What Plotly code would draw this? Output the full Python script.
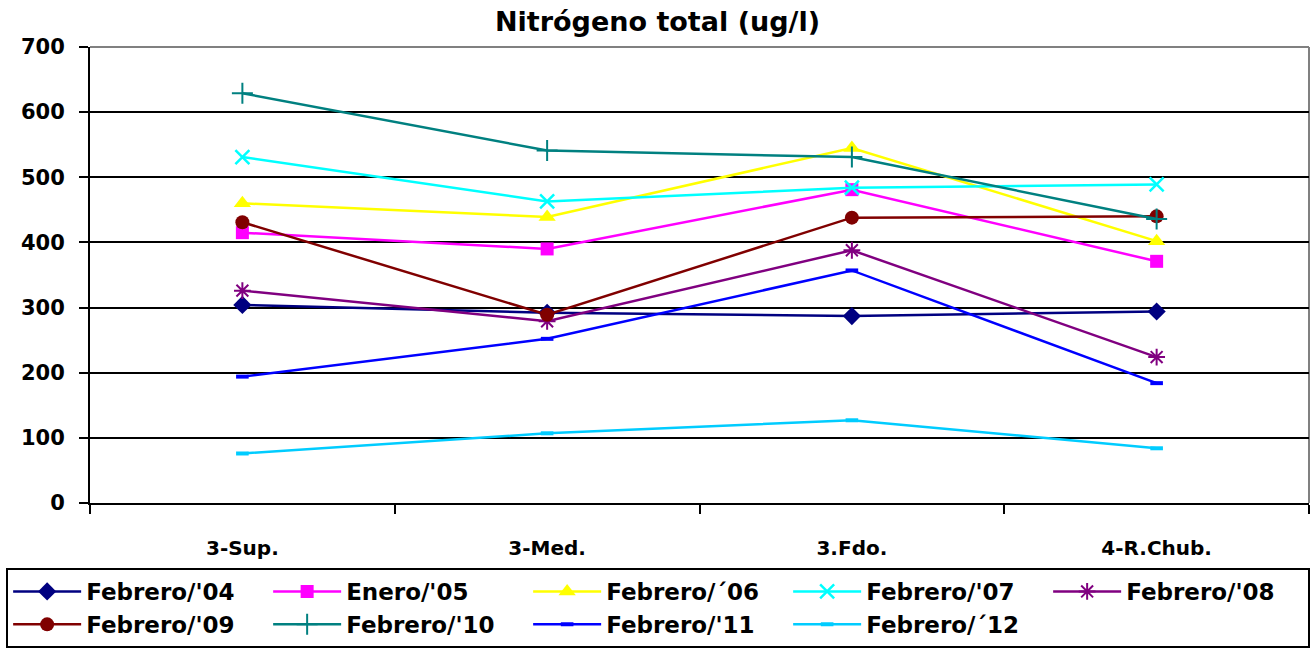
import plotly.graph_objects as go

categories = ["3-Sup.", "3-Med.", "3.Fdo.", "4-R.Chub."]

feb04 = [304, 292, 287, 294]
ene05 = [415, 390, 481, 371]
feb06 = [460, 439, 545, 402]
feb07 = [531, 463, 484, 489]
feb08 = [326, 279, 388, 224]
feb09 = [431, 289, 438, 440]
feb10 = [629, 541, 531, 436]
feb11 = [194, 252, 357, 184]
feb12 = [76, 107, 127, 84]

series = [
    ("Febrero/'04", feb04, "#000080", "diamond", 14, 0),
    ("Enero/'05", ene05, "#FF00FF", "square", 13, 0),
    ("Febrero/´06", feb06, "#FFFF00", "triangle-up", 15, 0),
    ("Febrero/'07", feb07, "#00FFFF", "x-thin", 14, 2.5),
    ("Febrero/'08", feb08, "#800080", "asterisk", 14, 2),
    ("Febrero/'09", feb09, "#800000", "circle", 14, 0),
    ("Febrero/'10", feb10, "#008080", "cross-thin", 15, 2),
    ("Febrero/'11", feb11, "#0000FF", "line-ew", 9, 4),
    ("Febrero/´12", feb12, "#00CCFF", "line-ew", 9, 4),
]

FONT = "DejaVu Sans"

fig = go.Figure()
for name, vals, color, sym, size, lw in series:
    fig.add_trace(go.Scatter(
        x=categories, y=vals, name=name, mode="lines+markers",
        line=dict(color=color, width=2.5),
        marker=dict(symbol=sym, size=size, color=color,
                    line=dict(color=color, width=lw)),
    ))

fig.update_layout(
    width=1315, height=654,
    margin=dict(l=88, r=6, t=47, b=151),
    paper_bgcolor="white", plot_bgcolor="white",
    font=dict(family=FONT, color="black"),
    title=dict(text="<b>Nitrógeno total (ug/l)</b>", x=0.5, xanchor="center",
               y=1 - 22 / 654, yanchor="middle", yref="container",
               font=dict(family=FONT, size=27, color="black")),
    showlegend=True,
    legend=dict(orientation="h", x=(4 - 88) / 1221, xanchor="left",
                y=-(568 - 503) / 456, yanchor="top",
                bordercolor="black", borderwidth=2, bgcolor="white",
                entrywidth=177, entrywidthmode="pixels",
                font=dict(family=FONT, size=23, color="black", weight="bold"),
                tracegroupgap=0, itemwidth=68),
)

fig.update_xaxes(
    type="category", range=[-0.5, 3.5],
    showgrid=False, showline=True, linecolor="black", linewidth=2,
    ticks="outside", tickson="boundaries", ticklen=9, tickwidth=2, tickcolor="black",
    ticklabelstandoff=26,
    tickfont=dict(family=FONT, size=20, color="black", weight="bold"),
)
fig.update_yaxes(
    range=[0, 700], dtick=100, tick0=0,
    showgrid=True, gridcolor="black", gridwidth=2,
    showline=True, linecolor="black", linewidth=2,
    ticks="outside", ticklen=9, tickwidth=2, tickcolor="black",
    ticklabelstandoff=10,
    zeroline=False,
    tickfont=dict(family=FONT, size=21, color="black", weight="bold"),
)

# plot area border (top/right in gray)
fig.add_shape(type="line", xref="paper", yref="paper", x0=0, x1=1, y0=1, y1=1,
              line=dict(color="#808080", width=2), layer="above")
fig.add_shape(type="line", xref="paper", yref="paper", x0=1, x1=1, y0=0, y1=1,
              line=dict(color="#808080", width=2), layer="below")

fig.write_html("out.html")
